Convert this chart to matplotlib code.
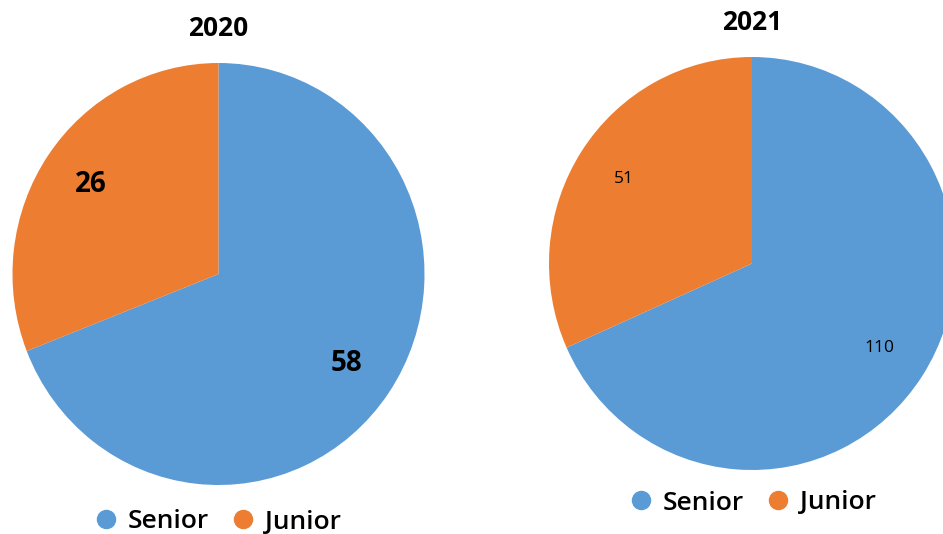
import matplotlib
matplotlib.use("Agg")
import matplotlib.pyplot as plt
from matplotlib.lines import Line2D

categories = ["Senior", "Junior"]
values_2020 = [58, 26]
values_2021 = [110, 51]
years = ["2020", "2021"]
colors = ["#5B9BD5", "#ED7D31"]

W, H = 943, 534
fig = plt.figure(figsize=(W / 100, H / 100), dpi=100)
plt.rcParams['font.family'] = ['Open Sans', 'DejaVu Sans']

def px_axes(cx, cy, rx, ry):
    return fig.add_axes([(cx - rx) / W, 1 - (cy + ry) / H, 2 * rx / W, 2 * ry / H])

specs = [
    dict(vals=values_2020, cx=218.5, cy=274, rx=206, ry=211, title=years[0], ty=28,
         lfs=20, lweight="bold", legy=522, legx=218),
    dict(vals=values_2021, cx=752, cy=263.5, rx=203, ry=206.5, title=years[1], ty=22,
         lfs=12.5, lweight="normal", legy=503, legx=753),
]

for s in specs:
    ax = px_axes(s["cx"], s["cy"], s["rx"], s["ry"])
    total = sum(s["vals"])
    wedges, texts, autotexts = ax.pie(
        s["vals"], colors=colors, startangle=90, counterclock=False,
        radius=1, pctdistance=0.75,
        autopct=lambda p, t=total: f"{round(p * t / 100):d}",
        wedgeprops=dict(linewidth=0),
    )
    for at in autotexts:
        at.set_fontsize(s["lfs"])
        at.set_fontweight(s["lweight"])
        at.set_color("black")
    ax.set_aspect("auto")
    ax.set_xlim(-1, 1)
    ax.set_ylim(-1, 1)
    ax.axis("off")
    fig.text(s["cx"] / W, 1 - s["ty"] / H, s["title"], ha="center", va="center",
             fontsize=19, fontweight="bold")
    handles = [Line2D([], [], marker="o", linestyle="none", markersize=13,
                      markerfacecolor=c, markeredgecolor=c) for c in colors]
    fig.legend(handles, categories, loc="center",
               bbox_to_anchor=(s["legx"] / W, 1 - s["legy"] / H),
               ncol=2, frameon=False, handletextpad=0.43, columnspacing=0.9,
               prop=dict(size=19, weight="semibold"), handlelength=0.8,
               borderpad=0, borderaxespad=0)

fig.savefig("out.png", dpi=100)
